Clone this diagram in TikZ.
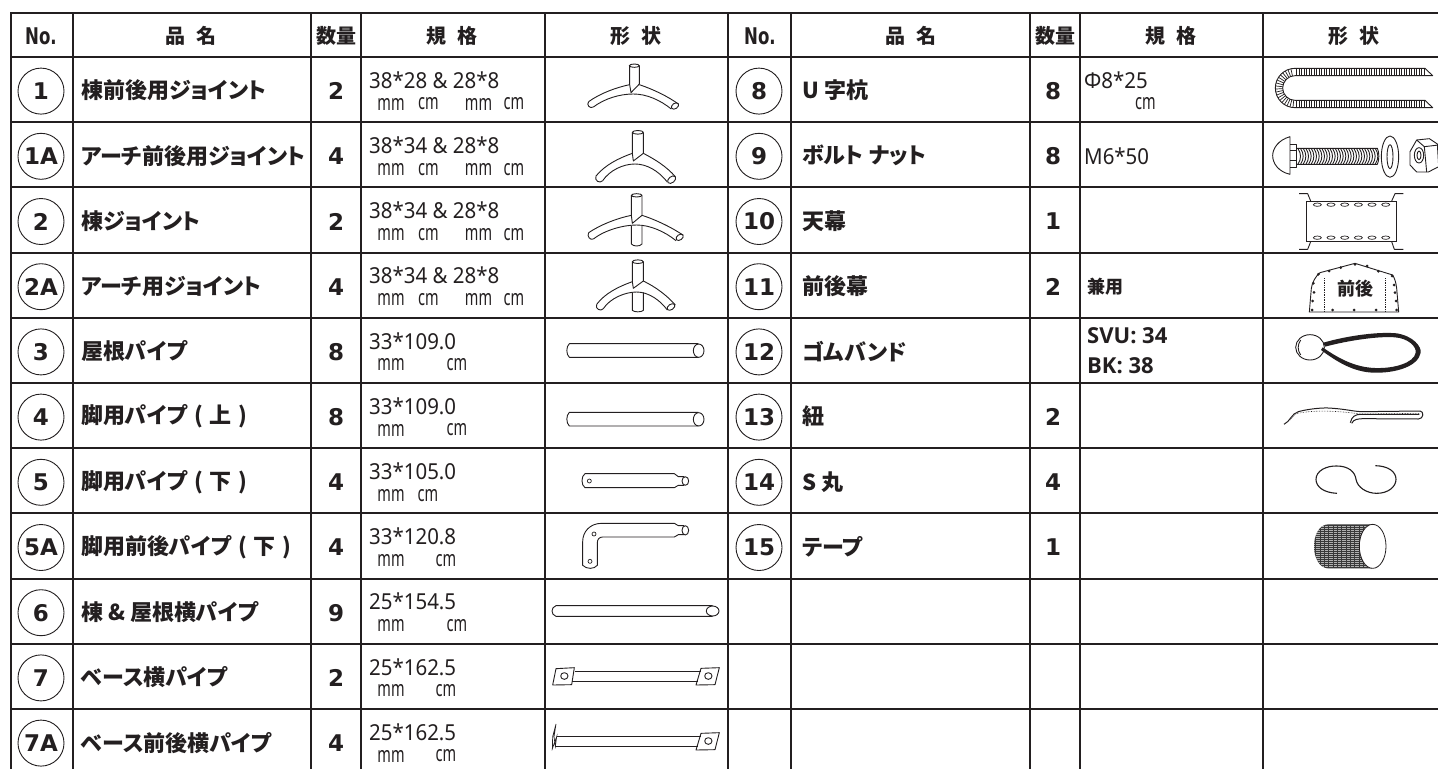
\documentclass[tikz,border=0pt]{standalone}
\usepackage{fontspec}
\usetikzlibrary{calc}
\setmainfont{Noto Sans}
\newfontfamily\jpfontbase[RawFeature=+palt]{Noto Sans CJK JP}
\newcommand{\jpfont}{\jpfontbase\bfseries}
\newfontfamily\digfontbase{DejaVu Sans}
\newcommand{\digfont}{\digfontbase\bfseries}
\newfontfamily\nofontbase[FakeStretch=0.72]{DejaVu Sans}
\newcommand{\nofont}{\nofontbase\bfseries}
\newfontfamily\specfont[FakeStretch=0.93]{Noto Sans}
\newfontfamily\unitfont[FakeStretch=0.66]{Noto Sans}
\newfontfamily\boldlatbase{Open Sans}
\newcommand{\boldlat}{\boldlatbase\bfseries}
\definecolor{ink}{HTML}{231F20}
\tikzset{
  gridline/.style={draw=ink,line width=2pt},
  shapeline/.style={draw=ink,line width=0.9pt,line join=round},
  thinshape/.style={draw=ink,line width=0.7pt},
  headtext/.style={text=ink,inner sep=0pt,font=\jpfont\fontsize{20}{22}\selectfont},
  notext/.style={text=ink,inner sep=0pt,font=\nofont\fontsize{23}{26}\selectfont},
  numcircle/.style={circle,draw=ink,line width=0.9pt,minimum size=46pt,inner sep=0pt,text=ink,font=\digfont\fontsize{23}{26}\selectfont},
  nametext/.style={anchor=west,text=ink,inner sep=0pt,font=\jpfont\fontsize{22}{25}\selectfont},
  qtytext/.style={text=ink,inner sep=0pt,font=\digfont\fontsize{23}{26}\selectfont},
  spectext/.style={anchor=west,text=ink,inner sep=0pt,font=\specfont\fontsize{22}{24}\selectfont},
  unittext/.style={text=ink,inner sep=0pt,font=\unitfont\fontsize{22}{24}\selectfont},
  latbold/.style={anchor=west,text=ink,inner sep=0pt,font=\boldlat\fontsize{22}{25}\selectfont},
  px/.style={x=0.33333pt,y=-0.33333pt},
}
\newcommand{\gp}{\hspace{7pt}}
\newcommand{\partrowL}[5]{%
  \pgfmathsetmacro{\ry}{57+65.2*#2+32.6}
  \node[numcircle] (c#1) at (41,\ry+1.5) {#3};
  \node[nametext] (n#1) at (81,\ry+1) {#4};
  \node[qtytext] (q#1) at (336,\ry+1.5) {#5};
}
\newcommand{\partrowR}[5]{%
  \pgfmathsetmacro{\ry}{57+65.2*#2+32.6}
  \node[numcircle] (c#1) at (759,\ry+1.5) {#3};
  \node[nametext] (n#1) at (802,\ry+1) {#4};
  \node[qtytext] (q#1) at (1053,\ry+1.5) {#5};
}
% id, row, spec text, spec x, list of unit items x/text
\newcommand{\specrow}[5]{%
  \pgfmathsetmacro{\rt}{57+65.2*#2}
  \node[spectext] (s#1) at (#4,\rt+23) {#3};
  \foreach \ux/\ut [count=\ui] in {#5} {
    \node[unittext] (u#1-\ui) at (\ux,\rt+47) {\ut};
  }
}
\begin{document}
\begin{tikzpicture}[x=1pt,y=-1pt]
\useasboundingbox (0,0) rectangle (1438,769);
\fill[white] (0,0) rectangle (1438,769);
% grid
\foreach \yy in {13,57,122.2,187.4,252.6,317.8,383,448.2,513.4,578.6,643.8,709}
  \draw[gridline] (10,\yy) -- (1438,\yy);
\foreach \xx in {10.5,72.5,311,361,544.7,727.7,791,1030,1080,1262.7}
  \draw[gridline] (\xx,12) -- (\xx,769);
% headers
\node[notext] (hno1) at (41,36) {No.};
\node[headtext] (hna1) at (191,36) {品\hspace{11pt}名};
\node[headtext] (hqt1) at (336.5,36) {数量};
\node[headtext] (hsp1) at (452,36) {規\hspace{11pt}格};
\node[headtext] (hsh1) at (636,36) {形\hspace{11pt}状};
\node[notext] (hno2) at (760,36) {No.};
\node[headtext] (hna2) at (911,36) {品\hspace{11pt}名};
\node[headtext] (hqt2) at (1055,36) {数量};
\node[headtext] (hsp2) at (1171,36) {規\hspace{11pt}格};
\node[headtext] (hsh2) at (1354,36) {形\hspace{11pt}状};
% left rows
\partrowL{a0}{0}{1}{棟前後用ジョイント}{2}
\partrowL{a1}{1}{1A}{アーチ前後用ジョイント}{4}
\partrowL{a2}{2}{2}{棟ジョイント}{2}
\partrowL{a3}{3}{2A}{アーチ用ジョイント}{4}
\partrowL{a4}{4}{3}{屋根パイプ}{8}
\partrowL{a5}{5}{4}{脚用パイプ\gp(\gp 上\gp)}{8}
\partrowL{a6}{6}{5}{脚用パイプ\gp(\gp 下\gp)}{4}
\partrowL{a7}{7}{5A}{脚用前後パイプ\gp(\gp 下\gp)}{4}
\partrowL{a8}{8}{6}{棟\hspace{5pt}\&\hspace{5pt}屋根横パイプ}{9}
\partrowL{a9}{9}{7}{ベース横パイプ}{2}
\partrowL{a10}{10}{7A}{ベース前後横パイプ}{4}
% right rows
\partrowR{b0}{0}{8}{U 字杭}{8}
\partrowR{b1}{1}{9}{ボルト ナット}{8}
\partrowR{b2}{2}{10}{天幕}{1}
\partrowR{b3}{3}{11}{前後幕}{2}
\partrowR{b4}{4}{12}{ゴムバンド}{}
\partrowR{b5}{5}{13}{紐}{2}
\partrowR{b6}{6}{14}{S 丸}{4}
\partrowR{b7}{7}{15}{テープ}{1}
% specs
\specrow{a0}{0}{38*28 \& 28*8}{369}{391/mm,428.5/cm,478.5/mm,514/cm}
\specrow{a1}{1}{38*34 \& 28*8}{369}{391/mm,428.5/cm,478.5/mm,514/cm}
\specrow{a2}{2}{38*34 \& 28*8}{369}{391/mm,428.5/cm,478.5/mm,514/cm}
\specrow{a3}{3}{38*34 \& 28*8}{369}{391/mm,428.5/cm,478.5/mm,514/cm}
\specrow{a4}{4}{33*109.0}{369}{391/mm,457/cm}
\specrow{a5}{5}{33*109.0}{369}{391/mm,457/cm}
\specrow{a6}{6}{33*105.0}{369}{391/mm,428/cm}
\specrow{a7}{7}{33*120.8}{369}{391/mm,446/cm}
\specrow{a8}{8}{25*154.5}{369}{391/mm,457/cm}
\specrow{a9}{9}{25*162.5}{369}{391/mm,446/cm}
\specrow{a10}{10}{25*162.5}{369}{391/mm,446/cm}
\specrow{b0}{0}{Φ8*25}{1084}{1145.5/cm}
\node[spectext] (sb1) at (1084,156) {M6*50};
\node[nametext,font=\jpfont\fontsize{18}{22}\selectfont] (sb3) at (1087,287) {兼用};
\node[latbold] (sb4a) at (1087,335.7) {SVU: 34};
\node[latbold] (sb4b) at (1087,365.7) {BK: 38};
% ---------- joints and pipes, traced from a 3x grid
\begin{scope}[shift={(530,50)},px]
  % 1
  \draw[shapeline] (299,48) -- (299,104) -- (303,128) -- (328,102) -- (328,48);
  \draw[shapeline] (313,47) ellipse (15 and 5);
  \draw[shapeline] (176,155) .. controls (210,130) and (260,112) .. (299,104);
  \draw[shapeline] (328,104) .. controls (370,118) and (415,140) .. (445,162);
  \draw[shapeline] (190,171) .. controls (225,145) and (270,132) .. (310,132) .. controls (350,132) and (390,150) .. (424,177);
  \draw[shapeline] (176,155) .. controls (168,165) and (180,177) .. (190,171);
  \draw[shapeline,rotate around={35:(435,168)}] (435,168) ellipse (12 and 8);
  % 1A
  \draw[shapeline] (307,248) -- (307,310) -- (310,333) -- (340,310) -- (340,248);
  \draw[shapeline] (323.5,247) ellipse (16.5 and 5.5);
  \draw[shapeline] (198,378) .. controls (225,345) and (265,325) .. (307,310);
  \draw[shapeline] (340,310) .. controls (375,328) and (410,350) .. (436,380);
  \draw[shapeline] (218,392) .. controls (240,360) and (280,342) .. (315,342) .. controls (350,342) and (385,362) .. (412,396);
  \draw[shapeline] (198,378) .. controls (192,392) and (210,402) .. (218,392);
  \draw[shapeline,rotate around={40:(425,389)}] (425,389) ellipse (14 and 9);
  % 2
  \draw[shapeline] (304,437) -- (304,496) -- (307,520) -- (336,496) -- (336,437);
  \draw[shapeline] (320,436) ellipse (16 and 5);
  \draw[shapeline] (176,548) .. controls (210,525) and (260,505) .. (304,496);
  \draw[shapeline] (336,496) .. controls (380,510) and (430,535) .. (460,556);
  \draw[shapeline] (190,567) .. controls (225,540) and (280,525) .. (320,525) .. controls (360,525) and (405,545) .. (438,572);
  \draw[shapeline] (176,548) .. controls (170,558) and (180,572) .. (190,567);
  \draw[shapeline,rotate around={35:(449,562)}] (449,562) ellipse (12 and 8);
  \draw[shapeline] (304,527) -- (304,582) .. controls (310,590) and (330,590) .. (336,582) -- (336,527);
\end{scope}
\begin{scope}[shift={(530,250)},px]
  % 2A
  \draw[shapeline] (307,36) -- (307,95) -- (310,115) -- (340,93) -- (340,36);
  \draw[shapeline] (323.5,35) ellipse (16.5 and 5.5);
  \draw[shapeline] (200,163) .. controls (225,130) and (265,110) .. (307,95);
  \draw[shapeline] (340,93) .. controls (375,110) and (410,135) .. (436,165);
  \draw[shapeline] (220,176) .. controls (240,145) and (285,126) .. (320,126) .. controls (355,126) and (390,150) .. (412,180);
  \draw[shapeline] (200,163) .. controls (194,176) and (212,186) .. (220,176);
  \draw[shapeline,rotate around={35:(423,171)}] (423,171) ellipse (13 and 8);
  \draw[shapeline] (307,127) -- (307,181) .. controls (312,187) and (335,187) .. (340,181) -- (340,127);
  % 3
  \draw[shapeline] (505,281) -- (118,281) .. controls (108,290) and (108,313) .. (118,322) -- (505,322);
  \draw[shapeline] (506,302) ellipse (16 and 20);
  % 4
  \draw[shapeline] (505,487) -- (118,487) .. controls (108,496) and (108,519) .. (118,528) -- (505,528);
  \draw[shapeline] (506,508) ellipse (16 and 20);
\end{scope}
\begin{scope}[shift={(530,420)},px]
  % 5
  \draw[shapeline] (462,170) -- (445,170) -- (433,161) -- (165,161) .. controls (153,168) and (153,196) .. (165,203) -- (433,203) -- (445,196) -- (462,196);
  \draw[shapeline] (466,183) ellipse (10 and 13);
  \draw[thinshape] (178,183) circle (6);
  % 5A
  \draw[shapeline] (462,317) -- (445,317) -- (433,310) -- (215,310) .. controls (180,310) and (158,335) .. (158,365) -- (158,436) .. controls (170,448) and (192,448) .. (202,436) -- (202,368) .. controls (202,358) and (208,351) .. (218,351) -- (433,351) -- (445,344) -- (462,344);
  \draw[shapeline] (466,331) ellipse (10 and 14);
  \draw[thinshape] (192,342) circle (6);
  \draw[thinshape] (180,424) circle (6);
\end{scope}
\begin{scope}[shift={(530,590)},px]
  % 6
  \draw[shapeline] (548,47) -- (78,47) .. controls (62,52) and (62,74) .. (78,79) -- (548,79);
  \draw[shapeline] (548,63) ellipse (19 and 15);
  % 7
  \draw[shapeline] (78,236) -- (133,233) -- (125,284) -- (68,285) -- cycle;
  \draw[shapeline] (103,258) ellipse (11 and 10);
  \draw[shapeline] (513,235) -- (568,233) -- (555,284) -- (498,285) -- cycle;
  \draw[shapeline] (535,258) ellipse (11 and 10);
  \draw[shapeline] (134,243) -- (512,243);
  \draw[shapeline] (127,274) -- (503,274);
  % 7A
  \draw[shapeline] (80,438) -- (512,438);
  \draw[shapeline] (76,469) -- (503,469);
  \draw[shapeline] (513,430) -- (568,428) -- (555,479) -- (498,480) -- cycle;
  \draw[shapeline] (535,453) ellipse (11 and 10);
  \draw[thinshape] (78,402) -- (68,440) -- (67,476) -- (80,440) -- (76,469) -- (72,440) -- cycle;
\end{scope}
% ---------- right column shapes
\begin{scope}[shift={(1240,40)},px]
  % 8 U stake
  \draw[shapeline] (578,107) -- (555,85) -- (165,85) .. controls (132.4,85) and (106,111.6) .. (106,144) .. controls (106,176.6) and (132.4,203) .. (165,203) -- (578,203) -- (555,181) -- (165,181) .. controls (144.6,181) and (128,164.4) .. (128,144) .. controls (128,123.6) and (144.6,107) .. (165,107) -- cycle;
  \foreach \i in {170,177.5,...,553} {
    \draw[thinshape] (\i,85) -- (\i,107);
    \draw[thinshape] (\i,181) -- (\i,203);
  }
  \foreach \a in {96,105,...,266}
    \draw[thinshape] ($(165,144)+(\a:37)$) -- ($(165,144)+(\a:59)$);
  % 9 bolt
  \draw[shapeline] (150,290) .. controls (115,300) and (98,325) .. (98,347) .. controls (98,370) and (115,395) .. (150,403) -- cycle;
  \draw[shapeline] (150,312) -- (170,312) -- (170,382) -- (150,382);
  \draw[shapeline] (150,332) -- (170,332);
  \draw[shapeline] (150,362) -- (170,362);
  \draw[shapeline] (170,325) -- (412,325) .. controls (418,335) and (418,362) .. (412,373) -- (170,373);
  \foreach \i in {174,182,...,408}
    \draw[shapeline] (\i,326) .. controls (\i+10,340) and (\i+10,358) .. (\i,372);
  \draw[shapeline] (450,350) ellipse (26 and 62);
  \draw[shapeline] (450,350) ellipse (9 and 36);
  \draw[shapeline] (510,335) -- (530,300) -- (568,296) -- (592,312) -- (596,380) -- (565,396) -- (530,396) -- (510,375) -- cycle;
  \draw[shapeline] (537,346) ellipse (14 and 23);
  \draw[shapeline] (537,346) ellipse (6 and 13);
  \draw[shapeline] (530,300) -- (553,320) -- (596,315);
  \draw[shapeline] (553,320) -- (560,396);
  % 10 canopy
  \draw[thinshape] (200,483) rectangle (468,605);
  \draw[shapeline] (177,461) -- (203,461) -- (212,483);
  \draw[shapeline] (490,461) -- (465,461) -- (455,483);
  \draw[shapeline] (177,628) -- (203,628) -- (212,605);
  \draw[shapeline] (490,628) -- (463,628) -- (455,605);
  \foreach \hx in {232,273,314,355,396,437} {
    \draw[thinshape] (\hx,494) ellipse (12 and 5);
    \draw[thinshape] (\hx,593) ellipse (12 and 5);
  }
\end{scope}
\begin{scope}[shift={(1240,230)},px]
  % 11 curtain
  \draw[shapeline] (208,246) -- (476,246) -- (470,175) .. controls (468,158) and (464,145) .. (458,135) -- (345,100) -- (240,128) .. controls (225,140) and (216,160) .. (214,175) -- cycle;
  \draw[thinshape,densely dotted] (252,145) -- (252,243);
  \draw[thinshape,densely dotted] (437,145) -- (437,243);
  \foreach \dx/\dy in {220/160,222/187,218/213,216/240,278/240,342/240,408/240,470/240,468/213,465/188,462/165,456/138,415/124,381/108,345/103,302/113,267/123,235/133}
    \fill[ink] (\dx,\dy) circle (4.5);
  \node[text=ink,inner sep=0pt,font=\jpfont\fontsize{18}{22}\selectfont] (curtain) at (345,175) {前後};
  % 12 band
  \draw[shapeline] (210,352) ellipse (43 and 38);
  \draw[shapeline] (182,330) .. controls (172,345) and (172,360) .. (182,375);
  \fill[ink] (250,338) .. controls (330,315) and (420,305) .. (470,310) .. controls (520,318) and (545,350) .. (542,368) .. controls (535,408) and (470,430) .. (400,428) .. controls (340,426) and (290,395) .. (243,360) -- (248,352) .. controls (295,385) and (345,412) .. (405,414) .. controls (465,416) and (522,398) .. (527,368) .. controls (530,350) and (505,325) .. (465,322) .. controls (420,318) and (330,330) .. (255,350) -- cycle;
  % 13 string
  \draw[draw=ink,line width=1pt] (132,583) .. controls (150,575) and (155,550) .. (175,545) .. controls (200,538) and (240,533) .. (265,534) .. controls (320,537) and (340,545) .. (370,545) -- (540,543);
  \draw[draw=ink,line width=0.6pt,densely dotted] (150,570) .. controls (160,555) and (170,548) .. (185,548) .. controls (230,540) and (300,543) .. (360,552) -- (540,550);
  \draw[draw=ink,line width=1pt] (540,543) .. controls (552,543) and (552,567) .. (535,567) -- (370,566) .. controls (355,566) and (340,568) .. (335,580);
  \draw[draw=ink,line width=1pt] (331,578) .. controls (335,560) and (345,553) .. (362,553) -- (538,553);
  % 14 S ring
  \draw[draw=ink,line width=1.1pt] (291,790) .. controls (250,788) and (228,770) .. (228,748) .. controls (228,722) and (260,707) .. (290,708) .. controls (325,708) and (345,725) .. (348,748) .. controls (352,772) and (380,790) .. (410,790) .. controls (445,790) and (468,770) .. (468,748) .. controls (468,725) and (445,708) .. (406,707);
\end{scope}
\begin{scope}[shift={(1240,400)},px]
  % 15 tape
  \begin{scope}
    \clip (398,373) -- (265,373) .. controls (238,373) and (222,405) .. (222,439) .. controls (222,473) and (238,505) .. (265,505) -- (398,505) -- cycle;
    \fill[black!78] (215,365) rectangle (400,510);
    \foreach \ty in {377,383,...,503}
      \draw[white!70!black,line width=0.3pt,densely dotted] (215,\ty) -- (400,\ty);
  \end{scope}
  \draw[fill=white,draw=ink,line width=0.8pt] (398,439) ellipse (40 and 66);
\end{scope}
\end{tikzpicture}
\end{document}
